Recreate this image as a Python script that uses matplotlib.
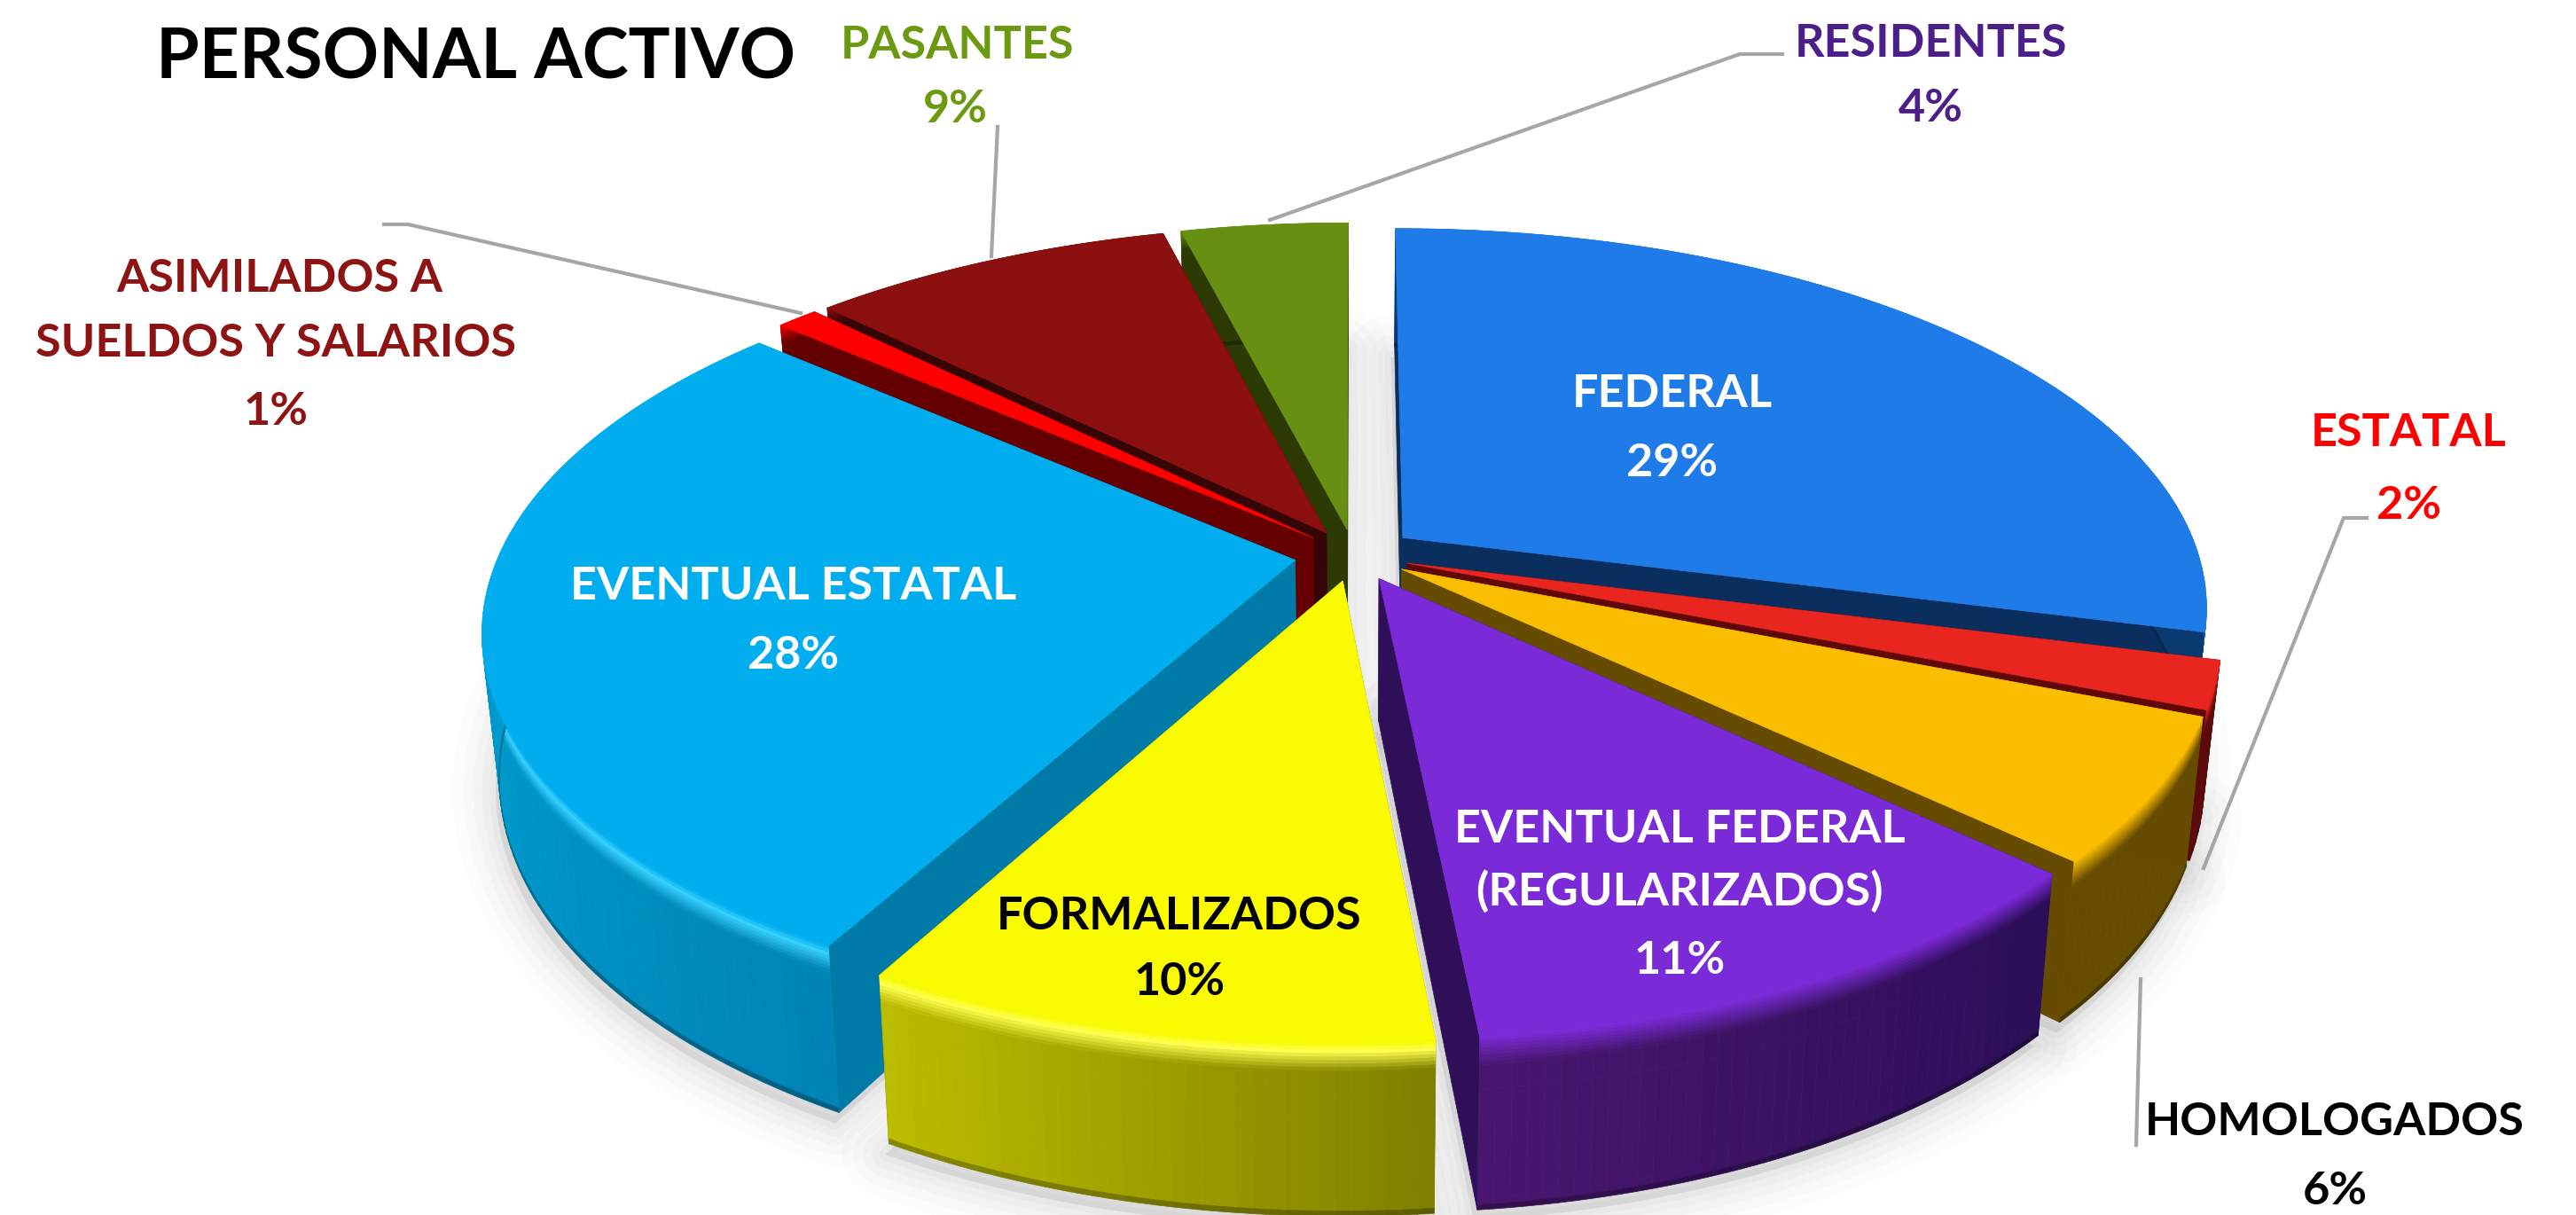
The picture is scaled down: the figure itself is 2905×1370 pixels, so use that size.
#Personal activo - exploded 3D pie drawn with matplotlib polygons
import numpy as np
import matplotlib
matplotlib.use("Agg")
import matplotlib.pyplot as plt
from matplotlib.collections import PolyCollection
from matplotlib.colors import to_rgb

#Data, clockwise from 12 o'clock (labels only give rounded percents)
categories = ["FEDERAL", "ESTATAL", "HOMOLOGADOS", "EVENTUAL FEDERAL", "FORMALIZADOS",
              "EVENTUAL ESTATAL", "ASIMILADOS", "PASANTES", "RESIDENTES"]
values = [29, 2, 6, 11.45, 9.55, 28.3, 1, 8.7, 4]

#Slice colours: top face, radial wall, outer wall left and right
top_colors = ["#1F7BE8", "#E8251F", "#FBBD00", "#7B2AD8", "#FAFA00", "#00AEEF", "#FF0000", "#8C0F0F", "#679012"]
radial_colors = ["#0A2F5E", "#600808", "#654C00", "#2E0F58", "#808000", "#007BA7", "#650000", "#360505", "#2E3A06"]
side_left = ["#0A3A70", "#5C0A0A", "#654C00", "#4A1670", "#BDBD00", "#009ACD", "#650000", "#360505", "#2E3A06"]
side_right = ["#0A3A70", "#5C0A0A", "#654C00", "#2C0E58", "#808000", "#0083B5", "#650000", "#360505", "#2E3A06"]
highlights = {"FORMALIZADOS": "#FFFF50", "EVENTUAL ESTATAL": "#35D0FF"}

#Geometry of the projection in image pixels
CX, CY = 1527, 626
RX, RY = 898, 417
PERSP = 0.178
EXPLODE = [0.078, 0.07, 0.07, 0.07, 0.07, 0.075, 0.07, 0.07, 0.07]
DEPTH = 158
CONVERGE = 0.02


def project(u, v, z):
    #u, v on the pie plane, z is the fraction of the depth going down
    s = 1 / (1 + PERSP * v)
    x = CX + (RX * u * s) * (1 - CONVERGE * z)
    y = CY - RY * v * s + DEPTH * z * s
    return x, y


def mix(a, b, t):
    a, b = np.array(to_rgb(a)), np.array(to_rgb(b))
    return tuple(a + (b - a) * t)


def slice_xy(a0, a1, off, z, r=1.0, n=80):
    t = np.linspace(a0, a1, n)
    u = np.r_[off[0], off[0] + r * np.sin(t)]
    v = np.r_[off[1], off[1] + r * np.cos(t)]
    return np.column_stack(project(u, v, z))


fig = plt.figure(figsize=(29.05, 13.70), dpi=100)
ax = fig.add_axes([0, 0, 1, 1])
ax.set_xlim(0, 2905)
ax.set_ylim(1370, 0)
ax.axis("off")

edges = np.cumsum([0] + values) / sum(values) * 2 * np.pi
slices = []
for i in range(len(values)):
    a0, a1 = edges[i], edges[i + 1]
    mid = (a0 + a1) / 2
    slices.append((np.cos(mid), i, a0, a1, (EXPLODE[i] * np.sin(mid), EXPLODE[i] * np.cos(mid))))

#Soft shadow under the pie
for lw, alpha in zip([70, 52, 36, 22, 10], [0.025, 0.03, 0.035, 0.04, 0.05]):
    for _, i, a0, a1, off in slices:
        xy = slice_xy(a0, a1, off, 1.0) + [-4, 12]
        ax.fill(xy[:, 0], xy[:, 1], fc="#808080", ec="#808080", alpha=alpha, lw=lw, joinstyle="round", zorder=1)

#Back to front
z_levels = np.r_[np.linspace(0, 0.16, 9), 0.3, 0.93, 0.97, 1.0]
for order, (_, i, a0, a1, off) in enumerate(sorted(slices, key=lambda s: -s[0])):
    zo = 2 + order

    #Radial walls
    for a in (a0, a1):
        tip_u, tip_v = off
        rim_u, rim_v = off[0] + np.sin(a), off[1] + np.cos(a)
        us = np.array([tip_u, rim_u, rim_u, tip_u])
        vs = np.array([tip_v, rim_v, rim_v, tip_v])
        zs = np.array([0, 0, 1, 1])
        x, y = project(us, vs, zs)
        ax.fill(x, y, fc=radial_colors[i], ec=radial_colors[i], lw=0.5, zorder=zo)

    #Outer wall with a left to right shade and a bevel on top and bottom
    t = np.linspace(a0, a1, max(4, int((a1 - a0) * 60)))
    u = off[0] + np.sin(t)
    v = off[1] + np.cos(t)
    quads, cols = [], []
    for j in range(len(t) - 1):
        frac = (u[j] - u.min()) / (u.max() - u.min())
        shade = mix(side_left[i], side_right[i], frac)
        for k in range(len(z_levels) - 1):
            z0, z1 = z_levels[k], z_levels[k + 1]
            xa, ya = project(u[j], v[j], z0)
            xb, yb = project(u[j + 1], v[j + 1], z0)
            xc, yc = project(u[j + 1], v[j + 1], z1)
            xd, yd = project(u[j], v[j], z1)
            quads.append([(xa, ya), (xb, yb), (xc, yc), (xd, yd)])
            zmid = (z0 + z1) / 2
            if zmid < 0.16:
                if categories[i] in highlights:
                    #bright line just below the top face, then fades into the wall
                    if zmid < 0.05:
                        cols.append(mix(top_colors[i], highlights[categories[i]], zmid / 0.05))
                    else:
                        cols.append(mix(highlights[categories[i]], shade, (zmid - 0.05) / 0.11))
                else:
                    cols.append(mix(top_colors[i], shade, zmid / 0.16))
            elif zmid > 0.95:
                cols.append(mix(shade, "#000000", 0.35 * (zmid - 0.93) / 0.07))
            else:
                cols.append(shade)
    ax.add_collection(PolyCollection(quads, facecolors=cols, edgecolors=cols, linewidths=0.5, zorder=zo))

    #Top face
    xy = slice_xy(a0, a1, off, 0)
    ax.fill(xy[:, 0], xy[:, 1], fc=top_colors[i], ec=top_colors[i], lw=0.5, zorder=zo)

#Leader lines
leaders = [
    ([1125, 1118], [143, 289]),
    ([2010, 1962, 1432], [61, 61, 248]),
    ([433, 460, 903], [253, 253, 353]),
    ([2669, 2643, 2485], [584, 584, 979]),
    ([2414, 2409], [1104, 1291]),
]
for lx, ly in leaders:
    ax.plot(lx, ly, color="#A6A6A6", lw=3, zorder=30)

#Labels
FONT = ["Lato", "DejaVu Sans"]
LABEL_SIZE = 37.5
label_rows = [
    ("PASANTES", 1080, 51, "#6B9A10"), ("9%", 1077, 123, "#6B9A10"),
    ("RESIDENTES", 2177, 49, "#4B1E8A"), ("4%", 2177, 122, "#4B1E8A"),
    ("ASIMILADOS A", 315, 314, "#8E1414"), ("SUELDOS Y SALARIOS", 311, 387, "#8E1414"), ("1%", 311, 464, "#8E1414"),
    ("ESTATAL", 2716, 488, "#FF0000"), ("2%", 2716, 570, "#FF0000"),
    ("HOMOLOGADOS", 2633, 1265, "#000000"), ("6%", 2633, 1344, "#000000"),
    ("FEDERAL", 1886, 444, "#FFFFFF"), ("29%", 1886, 522, "#FFFFFF"),
    ("EVENTUAL ESTATAL", 895, 661, "#FFFFFF"), ("28%", 895, 739, "#FFFFFF"),
    ("FORMALIZADOS", 1330, 1033, "#000000"), ("10%", 1330, 1107, "#000000"),
    ("EVENTUAL FEDERAL", 1894, 935, "#FFFFFF"), ("(REGULARIZADOS)", 1894, 1005, "#FFFFFF"), ("11%", 1894, 1083, "#FFFFFF"),
]
for txt, x, y, col in label_rows:
    ax.text(x, y, txt, color=col, fontsize=LABEL_SIZE, fontweight="bold", family=FONT, ha="center", va="center", zorder=40)

ax.text(176, 66, "PERSONAL ACTIVO", color="#000000", fontsize=56.5, fontweight="bold", family=FONT, ha="left", va="center", zorder=40)

fig.savefig("out.png", dpi=100, facecolor="white")
